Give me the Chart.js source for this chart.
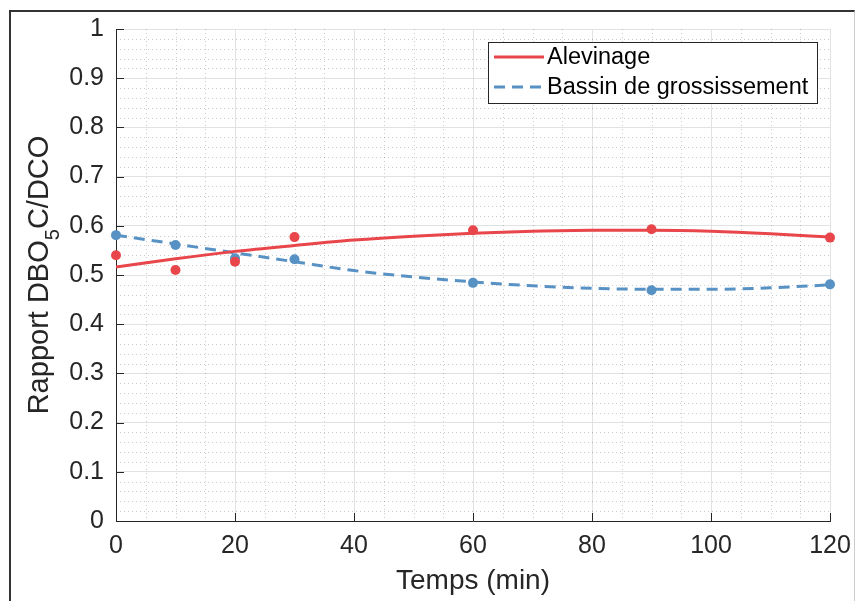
<!DOCTYPE html>
<html>
<head>
<meta charset="utf-8">
<script src="https://cdn.jsdelivr.net/npm/chart.js@4.4.0/dist/chart.umd.min.js"></script>
<style>
    html, body { margin: 0; padding: 0; background: #fff; }
    #wrap { position: relative; width: 856px; height: 601px; }
    #frame { position: absolute; left: 9px; top: 10px; width: 843px; height: 600px;
             border-left: 2px solid #333; border-top: 2px solid #333; border-right: 1px solid #ccc;
             pointer-events: none; }
    canvas { position: absolute; left: 0; top: 0; }
</style>
</head>
<body>
<div id="wrap">
    <canvas id="chart" width="856" height="601"></canvas>
    <div id="frame"></div>
</div>
<script>
// mesures (points)
const times = [0, 10, 20, 30, 60, 90, 120];
const alevinage = [0.540, 0.510, 0.527, 0.577, 0.591, 0.593, 0.576];
const bassin = [0.581, 0.561, 0.534, 0.532, 0.484, 0.469, 0.481];

// courbes ajustées
const fitTimes = [0, 10, 20, 30, 40, 50, 60, 70, 80, 90, 100, 110, 120];
const alevinageFit = [0.516, 0.533, 0.548, 0.560, 0.571, 0.579, 0.585, 0.589, 0.591, 0.591, 0.589, 0.584, 0.577];
const bassinFit = [0.581, 0.563, 0.545, 0.527, 0.509, 0.496, 0.486, 0.478, 0.473, 0.471, 0.471, 0.474, 0.480];

const seriesNames = ['Alevinage', 'Bassin de grossissement'];
const xTicks = [0, 20, 40, 60, 80, 100, 120];
const yTicks = [0, 0.1, 0.2, 0.3, 0.4, 0.5, 0.6, 0.7, 0.8, 0.9, 1];
const xTitle = 'Temps (min)';
const yTitle = ['Rapport DBO', '5', 'C/DCO']; // avec indice

const RED = '#E8464A';
const BLUE = '#5892C4';
const DARK = '#262626';
const FONT = '"Liberation Sans", Arial, Helvetica, sans-serif';

const toXY = (xs, ys) => xs.map((x, i) => ({ x: x, y: ys[i] }));

// grille secondaire en pointillés
const minorGrid = {
    id: 'minorGrid',
    beforeDatasetsDraw(chart) {
        const { ctx, chartArea: a, scales: { x, y } } = chart;
        ctx.save();
        ctx.strokeStyle = 'rgba(0,0,0,0.2)';
        ctx.lineWidth = 1;
        ctx.setLineDash([1, 3]);
        for (let v = 5; v < 120; v += 5) {
            if (v % 20 === 0) continue;
            const px = Math.round(x.getPixelForValue(v)) + 0.5;
            ctx.beginPath(); ctx.moveTo(px, a.top); ctx.lineTo(px, a.bottom); ctx.stroke();
        }
        for (let k = 1; k < 50; k++) {
            if (k % 5 === 0) continue;
            const py = Math.round(y.getPixelForValue(k * 0.02)) + 0.5;
            ctx.beginPath(); ctx.moveTo(a.left, py); ctx.lineTo(a.right, py); ctx.stroke();
        }
        ctx.restore();
    }
};

// graduations vers l'intérieur, légende, titre Y
const decorations = {
    id: 'decorations',
    afterDraw(chart) {
        const { ctx, chartArea: a, scales: { x, y } } = chart;
        ctx.save();
        ctx.strokeStyle = DARK;
        ctx.lineWidth = 1;
        ctx.setLineDash([]);
        xTicks.forEach(v => {
            const px = Math.round(x.getPixelForValue(v)) + 0.5;
            ctx.beginPath(); ctx.moveTo(px, a.bottom); ctx.lineTo(px, a.bottom - 8); ctx.stroke();
        });
        yTicks.forEach(v => {
            const py = Math.round(y.getPixelForValue(v)) + 0.5;
            ctx.beginPath(); ctx.moveTo(a.left, py); ctx.lineTo(a.left + 8, py); ctx.stroke();
        });

        // légende
        const lx = 488, ly = 42, lw = 329, lh = 61;
        ctx.fillStyle = '#fff';
        ctx.fillRect(lx, ly, lw, lh);
        ctx.strokeStyle = '#262626';
        ctx.strokeRect(lx + 0.5, ly + 0.5, lw, lh);
        const rows = [
            { name: seriesNames[0], color: RED, dash: [] },
            { name: seriesNames[1], color: BLUE, dash: [11, 7] }
        ];
        ctx.font = '23.5px ' + FONT;
        ctx.textBaseline = 'middle';
        rows.forEach((r, i) => {
            const yy = ly + 15 + i * 30;
            ctx.strokeStyle = r.color;
            ctx.lineWidth = 3;
            ctx.setLineDash(r.dash);
            ctx.beginPath(); ctx.moveTo(lx + 6, yy); ctx.lineTo(lx + 56, yy); ctx.stroke();
            ctx.fillStyle = '#000';
            ctx.fillText(r.name, lx + 59, yy + 1);
        });

        // titre de l'axe Y avec indice
        ctx.setLineDash([]);
        ctx.fillStyle = DARK;
        ctx.translate(48, (a.top + a.bottom) / 2);
        ctx.rotate(-Math.PI / 2);
        ctx.textBaseline = 'alphabetic';
        const big = '29px ' + FONT, small = '20px ' + FONT;
        ctx.font = big; const w1 = ctx.measureText(yTitle[0]).width;
        ctx.font = small; const w2 = ctx.measureText(yTitle[1]).width;
        ctx.font = big; const w3 = ctx.measureText(yTitle[2]).width;
        let sx = -(w1 + w2 + w3) / 2;
        ctx.font = big; ctx.fillText(yTitle[0], sx, 0); sx += w1;
        ctx.font = small; ctx.fillText(yTitle[1], sx, 11); sx += w2;
        ctx.font = big; ctx.fillText(yTitle[2], sx, 0);
        ctx.restore();
    }
};

new Chart(document.getElementById('chart'), {
    type: 'scatter',
    data: {
        datasets: [
            { label: seriesNames[0], data: toXY(fitTimes, alevinageFit), showLine: true, pointRadius: 0,
              borderColor: RED, borderWidth: 3, cubicInterpolationMode: 'monotone' },
            { label: seriesNames[1], data: toXY(fitTimes, bassinFit), showLine: true, pointRadius: 0,
              borderColor: BLUE, borderWidth: 3, borderDash: [11, 7], cubicInterpolationMode: 'monotone' },
            { label: 'pts1', data: toXY(times, alevinage), pointRadius: 5, pointBackgroundColor: RED,
              pointBorderWidth: 0, borderColor: RED, clip: false },
            { label: 'pts2', data: toXY(times, bassin), pointRadius: 5, pointBackgroundColor: BLUE,
              pointBorderWidth: 0, borderColor: BLUE, clip: false }
        ]
    },
    options: {
        responsive: false,
        animation: false,
        devicePixelRatio: 1,
        layout: { padding: { left: 0, top: 29, right: 26, bottom: 0 } },
        plugins: { legend: { display: false }, tooltip: { enabled: false } },
        scales: {
            x: {
                type: 'linear', min: 0, max: 120,
                afterFit: s => { s.height = 80; s.paddingLeft = 0; s.paddingRight = 0; },
                afterBuildTicks: s => { s.ticks = xTicks.map(v => ({ value: v })); },
                ticks: { color: DARK, font: { family: FONT, size: 25 }, padding: 10 },
                grid: { color: '#e2e2e2', drawTicks: false },
                border: { color: DARK, width: 1 },
                title: { display: true, text: xTitle, color: DARK, font: { family: FONT, size: 28 },
                         padding: { top: 0, bottom: 3 } }
            },
            y: {
                type: 'linear', min: 0, max: 1,
                afterFit: s => { s.width = 116; s.paddingTop = 0; s.paddingBottom = 0; },
                afterBuildTicks: s => { s.ticks = yTicks.map(v => ({ value: v })); },
                ticks: { color: DARK, font: { family: FONT, size: 25 }, padding: 12,
                         callback: v => String(Math.round(v * 10) / 10) },
                grid: { color: '#e2e2e2', drawTicks: false },
                border: { color: DARK, width: 1 }
            }
        }
    },
    plugins: [minorGrid, decorations]
});
</script>
</body>
</html>
